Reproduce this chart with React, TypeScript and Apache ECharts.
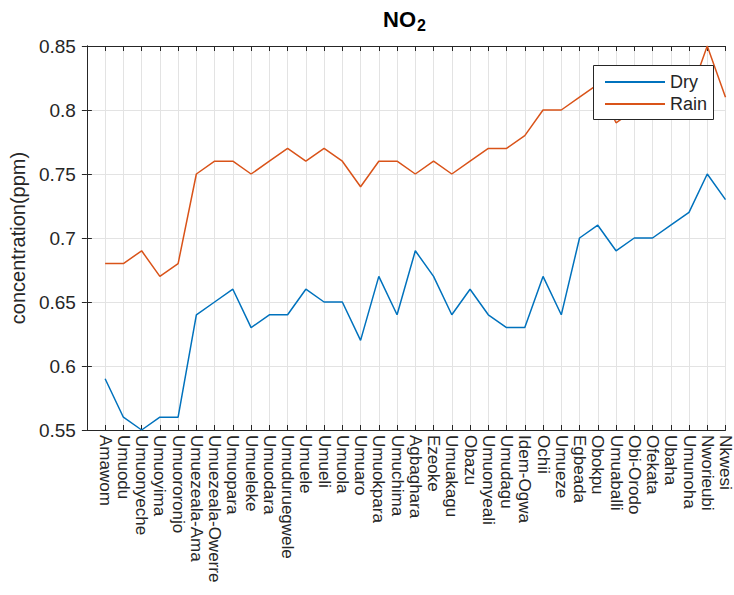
import React, { useEffect, useRef } from "react";
import * as echarts from "echarts";

const categories = [
  "Amawom", "Umuodu", "Umuonyeche", "Umuoyima", "Umuororonjo", "Umuezeala-Ama",
  "Umuezeala-Owerre", "Umuopara", "Umueleke", "Umuodara", "Umuduruegwele", "Umuele",
  "Umueli", "Umuola", "Umuaro", "Umuokpara", "Umuchima", "Agbaghara", "Ezeoke",
  "Umuakagu", "Obazu", "Umuonyeali", "Umudagu", "Idem-Ogwa", "Ochii", "Umueze",
  "Egbeada", "Obokpu", "Umuaballi", "Obi-Orodo", "Ofekata", "Ubaha", "Umunoha",
  "Nworieubi", "Nkwesi",
];

const dryValues = [
  0.59, 0.56, 0.55, 0.56, 0.56, 0.64, 0.65, 0.66, 0.63, 0.64, 0.64, 0.66,
  0.65, 0.65, 0.62, 0.67, 0.64, 0.69, 0.67, 0.64, 0.66, 0.64, 0.63, 0.63,
  0.67, 0.64, 0.70, 0.71, 0.69, 0.70, 0.70, 0.71, 0.72, 0.75, 0.73,
];

const rainValues = [
  0.68, 0.68, 0.69, 0.67, 0.68, 0.75, 0.76, 0.76, 0.75, 0.76, 0.77, 0.76,
  0.77, 0.76, 0.74, 0.76, 0.76, 0.75, 0.76, 0.75, 0.76, 0.77, 0.77, 0.78,
  0.80, 0.80, 0.81, 0.82, 0.79, 0.80, 0.80, 0.81, 0.81, 0.85, 0.81,
];

const yTicks = [0.55, 0.6, 0.65, 0.7, 0.75, 0.8, 0.85];

const FONT = "Liberation Sans, Arial, Helvetica, sans-serif";
const AXIS = "#262626";
const GRID = "#e3e3e3";

export default function App() {
  const ref = useRef<HTMLDivElement>(null);
  useEffect(() => {
    if (!ref.current) return;
    const chart = echarts.init(ref.current, undefined, { renderer: "svg" });
    const toPairs = (vals: number[]) => vals.map((v, i) => [i + 1, v]);
    const xBase = {
      type: "value" as const,
      min: 0,
      max: categories.length,
      interval: 1,
      axisLine: { show: true, lineStyle: { color: AXIS, width: 1 } },
      axisTick: { show: true, inside: true, length: 5, lineStyle: { color: AXIS } },
    };
    const yBase = {
      type: "value" as const,
      min: yTicks[0],
      max: yTicks[yTicks.length - 1],
      interval: 0.05,
      axisLine: { show: true, lineStyle: { color: AXIS, width: 1 } },
      axisTick: { show: true, inside: true, length: 5, lineStyle: { color: AXIS } },
    };
    chart.setOption({
      animation: false,
      textStyle: { fontFamily: FONT },
      grid: { left: 86, right: 0, top: 46, bottom: 165, containLabel: false },
      graphic: [
        {
          type: "text",
          left: 383,
          top: 8,
          style: {
            text: "{a|NO}{b|2}",
            rich: {
              a: { fontSize: 22, fontWeight: "bold", fontFamily: FONT, fill: "#000" },
              b: { fontSize: 16, fontWeight: "bold", fontFamily: FONT, fill: "#000", padding: [13, 0, 0, 1] },
            },
          },
        },
        {
          type: "rect",
          z: 100,
          shape: { x: 593.5, y: 65.5, width: 120, height: 54 },
          style: { fill: "#ffffff", stroke: AXIS, lineWidth: 1 },
        },
      ],
      legend: {
        orient: "vertical",
        left: 593,
        top: 65,
        padding: [7, 6, 7, 12],
        itemGap: 2,
        itemWidth: 60,
        itemHeight: 2,
        icon: "rect",
        textStyle: { fontSize: 18, color: "#262626", fontFamily: FONT, lineHeight: 20 },
        data: ["Dry", "Rain"],
        z: 200,
      },
      xAxis: [
        {
          ...xBase,
          position: "bottom",
          splitLine: { show: true, lineStyle: { color: GRID, width: 1 } },
          axisLabel: {
            show: true,
            rotate: -90,
            margin: 5,
            fontSize: 17,
            color: "#262626",
            fontFamily: FONT,
            showMinLabel: true,
            showMaxLabel: true,
            formatter: (v: number) => categories[Math.round(v) - 1] ?? "",
          },
        },
        {
          ...xBase,
          position: "top",
          splitLine: { show: false },
          axisLabel: { show: false },
        },
      ],
      yAxis: [
        {
          ...yBase,
          position: "left",
          splitLine: { show: true, lineStyle: { color: GRID, width: 1 } },
          axisLabel: {
            show: true,
            margin: 11,
            fontSize: 19,
            color: "#262626",
            fontFamily: FONT,
            formatter: (v: number) => String(+v.toFixed(2)),
          },
          name: "concentration(ppm)",
          nameLocation: "middle",
          nameGap: 56,
          nameTextStyle: { fontSize: 20, color: "#262626", fontFamily: FONT },
        },
        {
          ...yBase,
          position: "right",
          splitLine: { show: false },
          axisLabel: { show: false },
        },
      ],
      series: [
        {
          name: "Dry",
          type: "line",
          data: toPairs(dryValues),
          symbol: "none",
          itemStyle: { color: "#0072BD" },
          lineStyle: { color: "#0072BD", width: 1.5 },
        },
        {
          name: "Rain",
          type: "line",
          data: toPairs(rainValues),
          symbol: "none",
          itemStyle: { color: "#D95319" },
          lineStyle: { color: "#D95319", width: 1.5 },
        },
      ],
    });
    return () => chart.dispose();
  }, []);
  return (
    <div
      ref={ref}
      style={{ position: "fixed", left: 0, top: 0, width: 734, height: 595, background: "#fff" }}
    />
  );
}
